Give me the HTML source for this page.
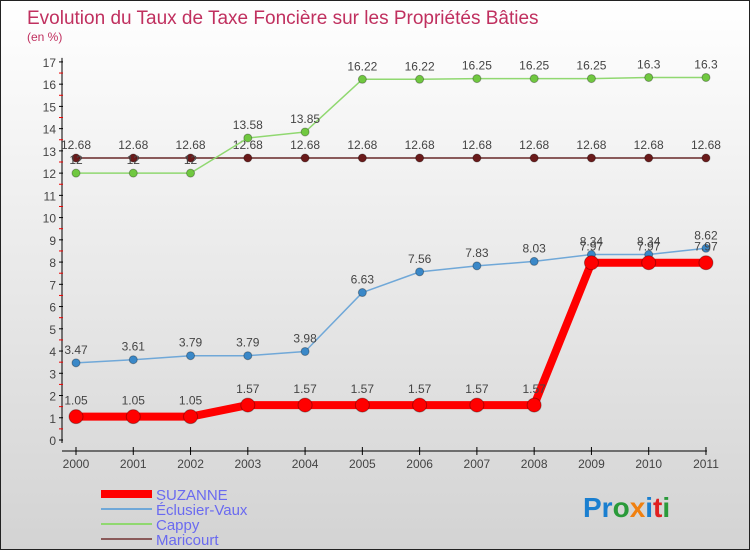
<!DOCTYPE html>
<html><head><meta charset="utf-8"><style>
body{margin:0}
#c{width:748px;height:548px;border:1px solid #222;background:linear-gradient(#fff,#d3d3d3);position:relative;font-family:"Liberation Sans",sans-serif}
</style></head><body>
<div id="c">
<svg id="s" width="748" height="548">
<text x="26" y="23" font-size="19" fill="#c0305f">Evolution du Taux de Taxe Foncière sur les Propriétés Bâties</text>
<text x="26" y="40" font-size="12" fill="#c0305f">(en %)</text>
<g id="g"></g>
<text x="582" y="516" font-size="28" font-weight="bold"><tspan fill="#1a7fd0">Pr</tspan><tspan fill="#2a9a3a">o</tspan><tspan fill="#f08010">x</tspan><tspan fill="#1a7fd0">i</tspan><tspan fill="#e02020">t</tspan><tspan fill="#2a9a3a">i</tspan></text>
</svg></div>
<script>
const years=[2000,2001,2002,2003,2004,2005,2006,2007,2008,2009,2010,2011];
const suzanne=[1.05,1.05,1.05,1.57,1.57,1.57,1.57,1.57,1.57,7.97,7.97,7.97];
const eclusier=[3.47,3.61,3.79,3.79,3.98,6.63,7.56,7.83,8.03,8.34,8.34,8.62];
const cappy=[12,12,12,13.58,13.85,16.22,16.22,16.25,16.25,16.25,16.3,16.3];
const maricourt=[12.68,12.68,12.68,12.68,12.68,12.68,12.68,12.68,12.68,12.68,12.68,12.68];
const yTicks=[0,1,2,3,4,5,6,7,8,9,10,11,12,13,14,15,16,17];
const NS="http://www.w3.org/2000/svg",g=document.getElementById('g');
const X=i=>75+i*57.27, Y=v=>439-v*22.24;
function el(t,a,name){const e=document.createElementNS(NS,t);for(const k in a)e.setAttribute(k,a[k]);


g.appendChild(e);return e;}
el('line',{x1:61,y1:Y(17)-4,x2:61,y2:Y(0)+3,stroke:'#000'},'y-axis');
yTicks.forEach(v=>{el('line',{x1:58,x2:62,y1:Y(v),y2:Y(v),stroke:'#000'},'y-tick');
if(v<17)el('line',{x1:58,x2:62,y1:Y(v+0.5),y2:Y(v+0.5),stroke:'#e00'},'y-minor-tick');
const t=el('text',{x:55,y:Y(v)+5,'font-size':12,fill:'#444','text-anchor':'end'},'y-tick-label');t.textContent=v;});
el('line',{x1:61,y1:450,x2:X(11)+1,y2:450,stroke:'#000'},'x-axis');
years.forEach((y,i)=>{el('line',{x1:X(i),x2:X(i),y1:446,y2:454,stroke:'#000'},'x-tick');
const t=el('text',{x:X(i),y:467,'font-size':12,fill:'#444','text-anchor':'middle'},'x-tick-label');t.textContent=y;});
function series(d,col,w,r,name,dot){
el('polyline',{points:d.map((v,i)=>X(i)+','+Y(v)).join(' '),fill:'none',stroke:col,'stroke-width':w,'stroke-linejoin':'round'},name+'-line');
d.forEach((v,i)=>{el('circle',{cx:X(i),cy:Y(v),r:r,fill:dot,stroke:'rgba(0,0,0,0.3)'},name+'-point');
const t=el('text',{x:X(i),y:Y(v)-(r+5),'font-size':12,fill:'#444','text-anchor':'middle'},name+'-value-label');t.textContent=String(v);});}
series(maricourt,'#8a5a5a',2,4,'maricourt','#6a1a1a');
series(cappy,'#90d870',1.5,4,'cappy','#70c840');
series(eclusier,'#70a8d8',1.5,4,'eclusier-vaux','#3a88c8');
series(suzanne,'#f00',8,7,'suzanne','#f00');
const leg=[['SUZANNE','#f00',8],['Éclusier-Vaux','#70a8d8',2],['Cappy','#90d870',2],['Maricourt','#8a5a5a',2]];
leg.forEach((l,i)=>{const y=493+i*15;
el('line',{x1:100,x2:151,y1:y,y2:y,stroke:l[1],'stroke-width':l[2]},'legend-swatch');
const t=el('text',{x:155,y:y+6,'font-size':15,fill:'#6a6af0'},'legend-entry');t.textContent=l[0];});
</script>
</body></html>
